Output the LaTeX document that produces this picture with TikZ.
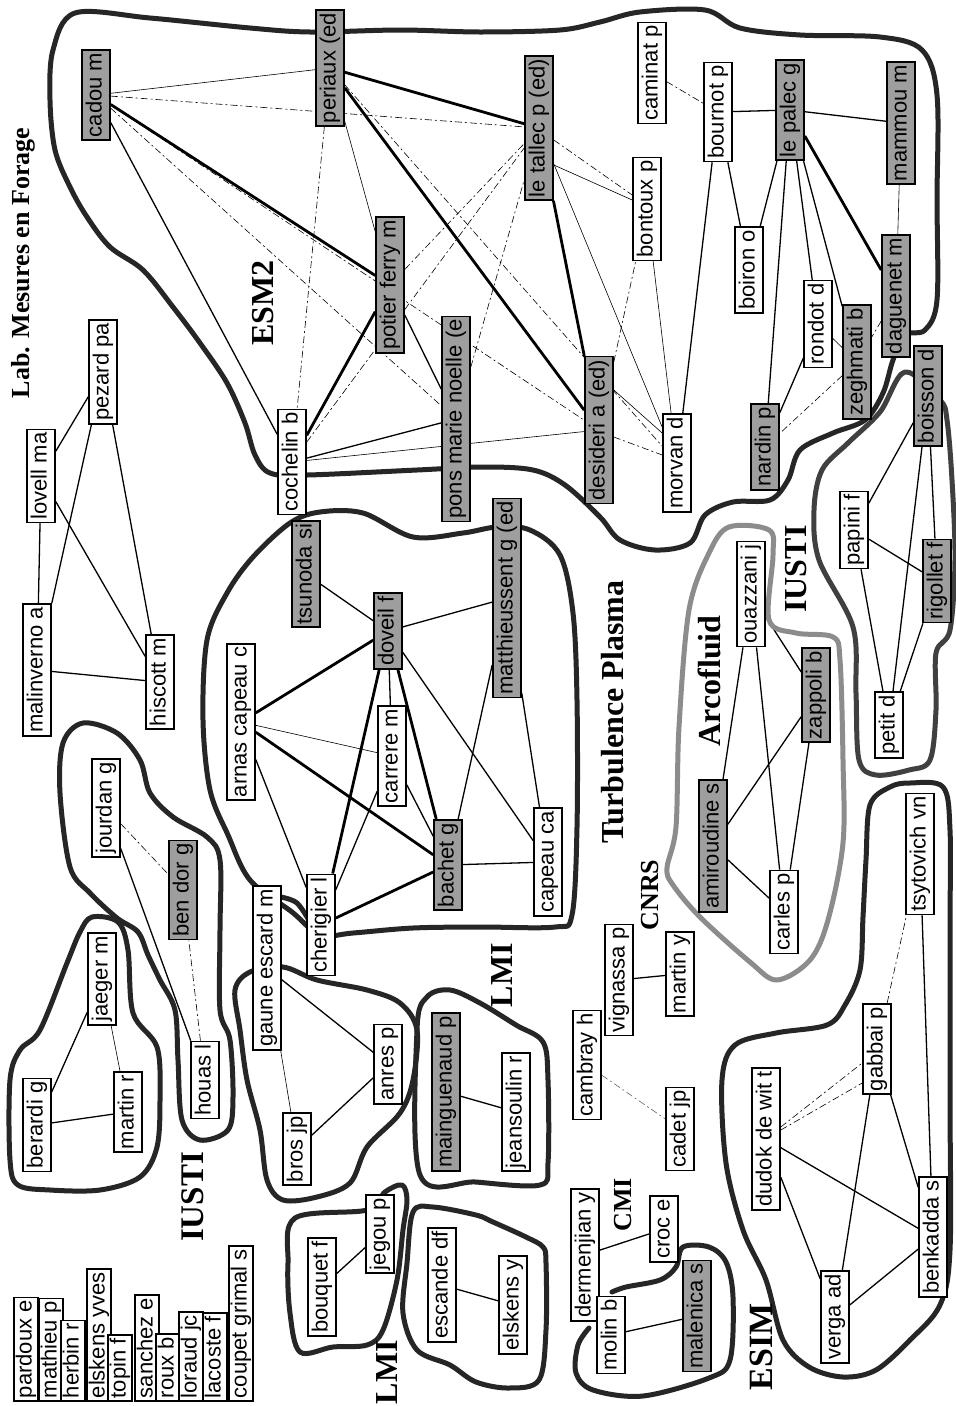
\documentclass[tikz,border=0pt]{standalone}
\usepackage{fontspec}
\setmainfont{Liberation Serif}
\newfontfamily\nodefont{Liberation Sans}
\usetikzlibrary{calc}
\pgfdeclarelayer{bg}
\pgfsetlayers{bg,main}
\tikzset{
  nd/.style={draw=black, line width=1.6pt, rotate=90, minimum height=28pt, inner xsep=3pt, inner ysep=3pt,
    font=\nodefont\fontsize{22}{24}\selectfont, text height=15.5pt, text depth=4.5pt, fill=white},
  sh/.style={nd, fill=black!38},
  lst/.style={nd, anchor=west, minimum height=24pt, inner ysep=1pt},
  lbl/.style={rotate=90, inner sep=0pt, font=\bfseries\fontsize{32}{34}\selectfont},
  thn/.style={line width=0.6pt},
  med/.style={line width=1.3pt},
  thk/.style={line width=2.8pt},
  dsh/.style={line width=0.6pt, dash pattern=on 7pt off 3pt on 2pt off 3pt},
  outl/.style={line width=5pt, draw=black!85, line join=round, line cap=round},
  outg/.style={line width=5pt, draw=black!45, line join=round}
}
\begin{document}
\begin{tikzpicture}[x=1pt,y=-1pt]
\useasboundingbox (0,0) rectangle (956,1406);
% ---------- ESM2 nodes
\node[sh] (cadou) at (96,95) {cadou m};
\node[sh] (periaux) at (330,68) {periaux (ed};
\node[sh] (potier) at (390,285) {potier ferry m};
\node[nd] (cochelin) at (292,462) {cochelin b};
\node[sh] (pons) at (456,419) {pons marie noelle (e};
\node[sh] (desideri) at (599,430) {desideri a (ed)};
\node[sh] (letallec) at (539,128) {le tallec p (ed)};
\node[nd] (caminat) at (652,73) {caminat p};
\node[nd] (bournot) at (718,112) {bournot p};
\node[sh] (lepalec) at (790,110) {le palec g};
\node[sh] (mammou) at (901,123) {mammou m};
\node[nd] (bontoux) at (647,209) {bontoux p};
\node[nd] (boiron) at (749,270) {boiron o};
\node[nd] (rondot) at (818,324) {rondot d};
\node[sh] (zeghmati) at (857,362) {zeghmati b};
\node[sh] (daguenet) at (896,296) {daguenet m};
\node[sh] (boisson) at (928,396) {boisson d};
\node[nd] (morvan) at (677,463) {morvan d};
\node[sh] (nardin) at (765,447) {nardin p};
% ---------- Turbulence Plasma
\node[sh] (tsunoda) at (306,574) {tsunoda si};
\node[sh] (doveil) at (388,631) {doveil f};
\node[sh] (matth) at (507,598) {matthieussent g (ed};
\node[nd] (arnas) at (241,722) {arnas capeau c};
\node[nd] (carrere) at (392,756) {carrere m};
\node[nd] (cherigier) at (321,925) {cherigier l};
\node[sh] (bachet) at (448,865) {bachet g};
\node[nd] (capeau) at (548,862) {capeau ca};
% ---------- Arcofluid
\node[nd] (ouazzani) at (751,594) {ouazzani j};
\node[sh] (zappoli) at (816,695) {zappoli b};
\node[sh] (amiroudine) at (713,846) {amiroudine s};
\node[nd] (carles) at (784,912) {carles p};
% ---------- IUSTI right
\node[nd] (papini) at (854,530) {papini f};
\node[sh] (rigollet) at (937,581) {rigollet f};
\node[nd] (petit) at (889,725) {petit d};
% ---------- ESIM
\node[nd] (tsytovich) at (920,854) {tsytovich vn};
\node[nd] (dudok) at (766,1139) {dudok de wit t};
\node[nd] (gabbai) at (877,1049) {gabbai p};
\node[nd] (verga) at (835,1317) {verga ad};
\node[nd] (benkadda) at (933,1237) {benkadda s};
% ---------- left top
\node[nd] (lovell) at (41,476) {lovell ma};
\node[nd] (malinverno) at (37,670) {malinverno a};
\node[nd] (pezard) at (103,372) {pezard pa};
\node[nd] (hiscott) at (160,682) {hiscott m};
\node[nd] (jourdan) at (106,808) {jourdan g};
\node[sh] (bendor) at (183,890) {ben dor g};
\node[nd] (houas) at (205,1080) {houas l};
\node[nd] (jaeger) at (102,979) {jaeger m};
\node[nd] (berardi) at (37,1125) {berardi g};
\node[nd] (martinr) at (128,1112) {martin r};
% ---------- LMI
\node[nd] (gaune) at (267,968) {gaune escard m};
\node[nd] (bros) at (297,1149) {bros jp};
\node[nd] (anres) at (388,1064) {anres p};
\node[sh] (mainguenaud) at (446,1092) {mainguenaud p};
\node[nd] (jeansoulin) at (516,1112) {jeansoulin r};
\node[nd] (bouquet) at (322,1287) {bouquet f};
\node[nd] (jegou) at (380,1234) {jegou p};
\node[nd] (escande) at (442,1285) {escande df};
\node[nd] (elskensy) at (513,1305) {elskens y};
% ---------- CNRS / CMI
\node[nd] (cambray) at (587,1065) {cambray h};
\node[nd] (vignassa) at (619,980) {vignassa p};
\node[nd] (martiny) at (680,974) {martin y};
\node[nd] (cadet) at (680,1129) {cadet jp};
\node[nd] (dermenjian) at (585,1255) {dermenjian y};
\node[nd] (croc) at (664,1229) {croc e};
\node[nd] (molin) at (611,1335) {molin b};
\node[sh] (malenica) at (697,1316) {malenica s};
% ---------- list
\node[lst] (l1) at (26,1402) {pardoux e};
\node[lst] (l2) at (51,1402) {mathieu p};
\node[lst] (l3) at (73,1402) {herbin r};
\node[lst] (l4) at (99,1402) {elskens yves};
\node[lst] (l5) at (120,1402) {topin f};
\node[lst] (l6) at (147,1402) {sanchez e};
\node[lst] (l7) at (168,1402) {roux b};
\node[lst] (l8) at (191,1402) {loraud jc};
\node[lst] (l9) at (215,1402) {lacoste f};
\node[lst] (l10) at (241,1402) {coupet grimal s};
% ---------- labels
\node[lbl, font=\bfseries\fontsize{26}{28}\selectfont] (tLMF) at (23,263) {Lab. Mesures en Forage};
\node[lbl] (tESM2) at (263,303) {ESM2};
\node[lbl] (tTP) at (613,712) {Turbulence Plasma};
\node[lbl] (tArc) at (709,681) {Arcofluid};
\node[lbl] (tIUSTIr) at (796,569) {IUSTI};
\node[lbl, font=\bfseries\fontsize{26}{28}\selectfont] (tCNRS) at (650,895) {CNRS};
\node[lbl, font=\bfseries\fontsize{33}{35}\selectfont] (tIUSTIl) at (193,1197) {IUSTI};
\node[lbl] (tLMIm) at (502,975) {LMI};
\node[lbl] (tLMIb) at (387,1372) {LMI};
\node[lbl, font=\bfseries\fontsize{26}{28}\selectfont] (tCMI) at (623,1205) {CMI};
\node[lbl, font=\bfseries\fontsize{34}{36}\selectfont] (tESIM) at (761,1347) {ESIM};

\begin{pgfonlayer}{bg}
\fill[white] (0,0) rectangle (956,1406);
% ESM2 edges
\draw[thn] (cadou) -- (periaux);
\draw[dsh] (cadou) -- (letallec);
\draw[thk] (cadou) -- (potier);
\draw[med] (cadou) -- (cochelin);
\draw[dsh] (cadou) -- (pons);
\draw[dsh] (cadou) -- (desideri);
\draw[thk] (periaux) -- (letallec);
\draw[thk] (periaux) -- (desideri);
\draw[dsh] (periaux) -- (cochelin);
\draw[thn] (periaux) -- (potier);
\draw[dsh] (periaux) -- (morvan);
\draw[thk] (potier) -- (cochelin);
\draw[med] (potier) -- (pons);
\draw[dsh] (potier) -- (letallec);
\draw[med] (cochelin) -- (pons);
\draw[thn] (cochelin) -- (desideri);
\draw[dsh] (cochelin) -- (letallec);
\draw[dsh] (pons) -- (letallec);
\draw[thk] (desideri) -- (letallec);
\draw[dsh] (desideri) -- (bontoux);
\draw[thn] ($(desideri.south)+(0,-40)$) -- ($(morvan.north)+(0,-30)$);
\draw[dsh] ($(desideri.south)+(0,7)$) -- ($(morvan.north)+(0,-8)$);
\draw[dsh] ($(letallec.south)+(0,12)$) -- ($(bontoux.north)+(0,-14)$);
\draw[thn] ($(letallec.south)+(0,37)$) -- ($(bontoux.north)+(0,-9)$);
\draw[thn] (letallec) -- (morvan);
\draw[thn] (bontoux) -- (morvan);
\draw[dsh] (caminat) -- (bournot);
\draw[med] (bournot) -- (lepalec);
\draw[med] (bournot) -- (boiron);
\draw[med] (bournot) -- (morvan);
\draw[med] (lepalec) -- (mammou);
\draw[med] (lepalec) -- (boiron);
\draw[med] (lepalec) -- (nardin);
\draw[med] (lepalec) -- (rondot);
\draw[med] (lepalec) -- (zeghmati);
\draw[thk] (lepalec) -- (daguenet);
\draw[thn] (mammou) -- (daguenet);
\draw[dsh] (daguenet) -- (zeghmati);
\draw[med] (rondot) -- (nardin);
\draw[thn] (rondot) -- (zeghmati);
\draw[dsh] (zeghmati) -- (nardin);
% IUSTI right
\draw[med] (boisson) -- (papini);
\draw[med] (boisson) -- (petit);
\draw[med] (boisson) -- (rigollet);
\draw[med] (papini) -- (rigollet);
\draw[med] (papini) -- (petit);
\draw[med] (rigollet) -- (petit);
% Turbulence Plasma
\draw[med] (tsunoda) -- (doveil);
\draw[med] (doveil) -- (matth);
\draw[thk] (doveil) -- (arnas);
\draw[med] (doveil) -- (carrere);
\draw[thk] (doveil) -- (cherigier);
\draw[thk] (doveil) -- (bachet);
\draw[med] (doveil) -- (capeau);
\draw[thn] (arnas) -- (carrere);
\draw[thk] (arnas) -- (bachet);
\draw[med] (arnas) -- (cherigier);
\draw[med] (carrere) -- (cherigier);
\draw[med] (carrere) -- (bachet);
\draw[thk] (cherigier) -- (bachet);
\draw[med] (bachet) -- (capeau);
\draw[med] (bachet) -- (matth);
\draw[med] (matth) -- (capeau);
% left
\draw[med] (lovell) -- (malinverno);
\draw[med] (lovell) -- (pezard);
\draw[med] (lovell) -- (hiscott);
\draw[med] (malinverno) -- (pezard);
\draw[med] (malinverno) -- (hiscott);
\draw[med] (pezard) -- (hiscott);
\draw[dsh] (houas) -- (bendor);
\draw[med] (houas) -- (jourdan);
\draw[dsh] (jourdan) -- (bendor);
\draw[med] (jaeger) -- (berardi);
\draw[thn] (jaeger) -- (martinr);
\draw[med] (berardi) -- (martinr);
% LMI
\draw[med] (gaune) -- (anres);
\draw[thn] (gaune) -- (bros);
\draw[med] (anres) -- (bros);
\draw[med] (mainguenaud) -- (jeansoulin);
\draw[med] (bouquet) -- (jegou);
\draw[med] (escande) -- (elskensy);
% CNRS / CMI
\draw[med] (vignassa) -- (martiny);
\draw[dsh, draw=black!60] (cambray) -- (cadet);
\draw[med] (dermenjian) -- (croc);
\draw[med] (molin) -- (malenica);
% ESIM
\draw[dsh] ($(dudok.south)+(0,-12)$) -- ($(gabbai.north)+(0,14)$);
\draw[dsh] ($(dudok.south)+(0,-9)$) -- ($(gabbai.north)+(0,34)$);
\draw[med] (dudok) -- (benkadda);
\draw[med] (dudok) -- (verga);
\draw[med] (gabbai) -- (verga);
\draw[med] (gabbai) -- (benkadda);
\draw[med] (verga) -- (benkadda);
\draw[dsh] (gabbai) -- (tsytovich);
\draw[med] (tsytovich) -- (benkadda);
% Arcofluid
\draw[med] (amiroudine) -- (ouazzani);
\draw[med] (amiroudine) -- (zappoli);
\draw[med] (amiroudine) -- (carles);
\draw[med] (ouazzani) -- (zappoli);
\draw[med] (ouazzani) -- (carles);
\draw[med] (zappoli) -- (carles);

% ---------- outlines
% ESM2
\draw[outl] plot[smooth cycle, tension=0.55] coordinates {(75,13) (150,18) (250,28) (310,32) (400,30) (480,32) (560,30) (600,22) (640,12) (705,10) (740,28) (800,35) (880,37) (922,50) (937,95) (937,200) (937,300) (925,330) (905,335) (893,360) (883,393) (865,420) (833,433) (800,450) (788,480) (770,500) (733,502) (705,515) (690,543) (655,550) (620,540) (600,517) (565,485) (533,470) (483,467) (417,470) (307,475) (270,473) (255,455) (245,423) (227,383) (200,343) (173,307) (143,270) (110,247) (87,217) (70,187) (55,150) (50,100) (53,50)};
% Turbulence Plasma
\draw[outl] plot[smooth cycle, tension=0.55] coordinates {(320,512) (363,513) (413,537) (463,533) (497,527) (530,530) (560,555) (573,613) (577,700) (577,827) (572,915) (555,927) (480,927) (413,928) (353,933) (320,935) (292,912) (250,880) (228,835) (210,790) (203,720) (207,640) (227,593) (253,557) (290,523)};
% IUSTI (jourdan)
\draw[outl] plot[smooth cycle, tension=0.55] coordinates {(83,723) (117,733) (140,760) (150,793) (173,817) (207,837) (220,860) (220,930) (220,1010) (230,1040) (233,1097) (228,1130) (200,1140) (182,1120) (178,1060) (175,1010) (160,980) (148,955) (138,932) (117,918) (90,893) (70,867) (60,793) (63,743)};
% berardi group
\draw[outl] plot[smooth cycle, tension=0.55] coordinates {(92,917) (118,922) (128,950) (133,1013) (157,1047) (160,1097) (157,1147) (140,1177) (100,1190) (50,1190) (18,1185) (10,1160) (10,1080) (20,1050) (40,1030) (67,963) (80,932)};
% LMI gaune
\draw[outl] plot[smooth cycle, tension=0.55] coordinates {(250,972) (235,990) (240,1030) (247,1080) (260,1130) (267,1180) (283,1200) (317,1197) (350,1183) (367,1147) (400,1113) (413,1080) (417,1030) (400,1003) (367,990) (317,980) (283,967)};
% gaune - cherigier link
\draw[outl] plot[smooth, tension=0.55] coordinates {(281,897) (297,903) (310,922)};
% LMI mainguenaud
\draw[outl] plot[smooth cycle, tension=0.55] coordinates {(420,1175) (417,1030) (427,997) (450,990) (480,1003) (516,1025) (543,1042) (548,1080) (548,1163) (540,1185) (476,1182)};
% LMI bouquet
\draw[outl] plot[smooth cycle, tension=0.55] coordinates {(295,1218) (367,1210) (385,1192) (402,1185) (407,1200) (403,1230) (397,1280) (383,1330) (367,1345) (333,1347) (300,1352) (290,1313) (288,1263)};
% escande
\draw[outl] plot[smooth cycle, tension=0.55] coordinates {(413,1212) (433,1207) (476,1215) (493,1222) (526,1237) (543,1247) (546,1263) (546,1330) (539,1380) (509,1388) (476,1382) (450,1365) (417,1350) (403,1313) (407,1263)};
% Arcofluid
\draw[outg] plot[smooth cycle, tension=0.55] coordinates {(729,527) (769,530) (773,555) (769,620) (796,633) (833,637) (840,660) (843,760) (843,843) (828,920) (810,960) (777,980) (750,962) (700,917) (673,885) (667,868) (676,827) (679,727) (689,610) (709,553)};
% IUSTI right
\draw[outl, draw=black!75] plot[smooth cycle, tension=0.55] coordinates {(905,372) (880,412) (848,443) (822,470) (814,510) (819,560) (853,627) (856,693) (859,760) (876,775) (909,770) (930,760) (936,710) (936,653) (950,630) (955,560) (952,480) (947,420) (940,400)};
% ESIM
\draw[outl] plot[smooth cycle, tension=0.55] coordinates {(870,805) (890,787) (910,783) (943,787) (950,830) (950,930) (950,1100) (950,1250) (940,1305) (910,1340) (876,1370) (843,1377) (809,1367) (783,1340) (766,1280) (743,1230) (726,1163) (722,1080) (735,1045) (776,1033) (827,1025) (845,1005) (860,970) (863,917) (866,860)};
% CMI
\draw[outl] plot[smooth, tension=0.55] coordinates {(589,1328) (578,1345) (576,1373) (593,1390) (643,1396) (709,1378) (730,1360) (733,1297) (726,1262) (709,1247) (683,1247) (676,1267) (660,1280) (626,1287) (612,1292)};
\end{pgfonlayer}
\end{tikzpicture}
\end{document}
